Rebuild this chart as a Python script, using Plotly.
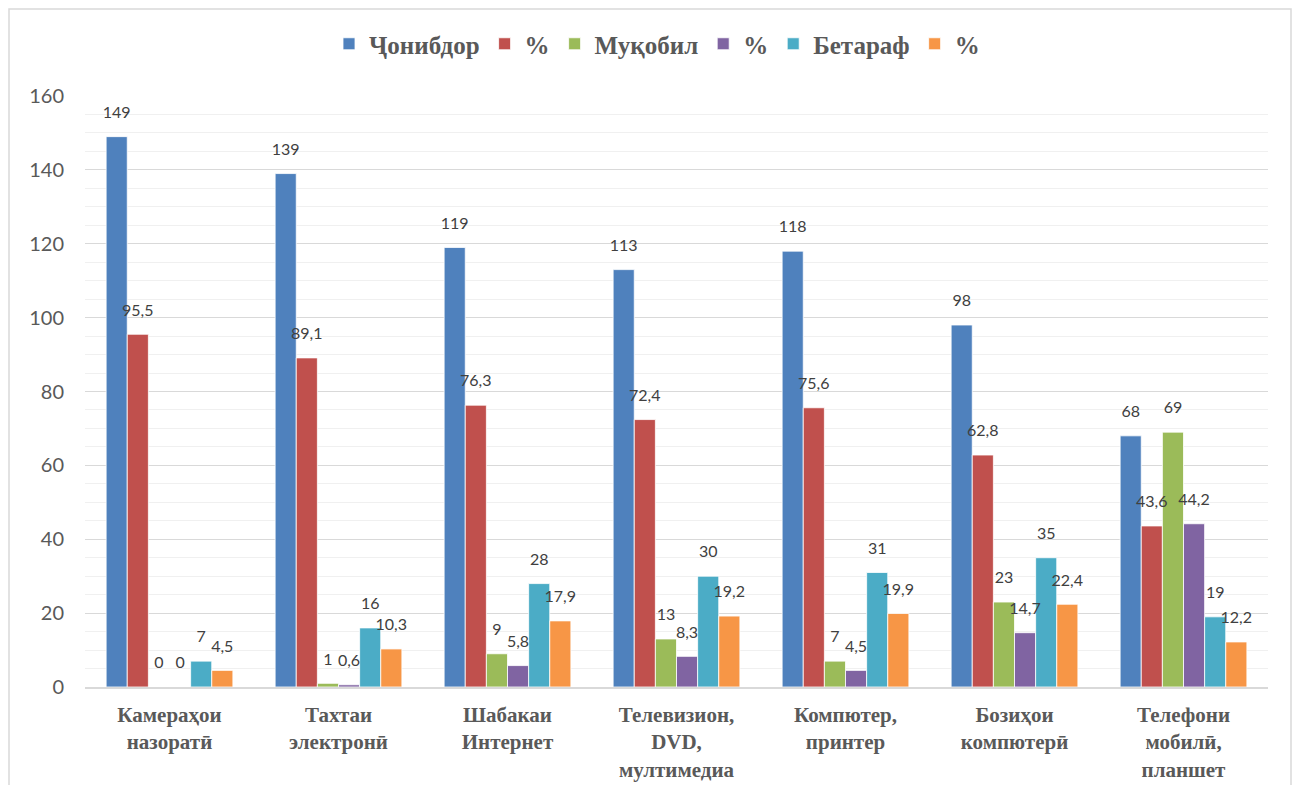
import plotly.graph_objects as go

categories = ["Камераҳои<br>назоратӣ", "Тахтаи<br>электронӣ", "Шабакаи<br>Интернет",
              "Телевизион,<br>DVD,<br>мултимедиа", "Компютер,<br>принтер",
              "Бозиҳои<br>компютерӣ", "Телефони<br>мобилӣ,<br>планшет"]
series_names = ["Ҷонибдор", "%", "Муқобил", "%", "Бетараф", "%"]
jonibdor = [149, 139, 119, 113, 118, 98, 68]
jonibdor_pct = [95.5, 89.1, 76.3, 72.4, 75.6, 62.8, 43.6]
muqobil = [0, 1, 9, 13, 7, 23, 69]
muqobil_pct = [0, 0.6, 5.8, 8.3, 4.5, 14.7, 44.2]
betaraf = [7, 16, 28, 30, 31, 35, 19]
betaraf_pct = [4.5, 10.3, 17.9, 19.2, 19.9, 22.4, 12.2]
colors = ["#4F81BD", "#C0504D", "#9BBB59", "#8064A2", "#4BACC6", "#F79646"]

all_series = [jonibdor, jonibdor_pct, muqobil, muqobil_pct, betaraf, betaraf_pct]

def fmt(v):
    return ("%g" % v).replace(".", ",")

W, H = 1284, 777
L, R, T, B = 77, 24, 88, 98
PW, PH = W - L - R, H - T - B

fig = go.Figure()
for i, (name, vals, col) in enumerate(zip(series_names, all_series, colors)):
    fig.add_trace(go.Bar(
        x=categories, y=vals, name=name,
        offsetgroup=str(i), alignmentgroup="g",
        marker=dict(color=col, line=dict(color="white", width=0.8)),
    ))
for i, vals in enumerate(all_series):
    fig.add_trace(go.Scatter(
        x=categories, y=vals, mode="markers+text",
        offsetgroup=str(i), alignmentgroup="g",
        marker=dict(size=22, color="rgba(0,0,0,0)"),
        text=[fmt(v) for v in vals],
        textposition="top center",
        textfont=dict(family="Lato, Open Sans, sans-serif", size=16, color="#404040"),
        showlegend=False, hoverinfo="skip", cliponaxis=False,
    ))

fig.update_layout(
    width=W, height=H,
    margin=dict(l=L, r=R, t=T, b=B),
    paper_bgcolor="white", plot_bgcolor="white",
    barmode="group", bargap=0.25, bargroupgap=0,
    scattermode="group", scattergap=0.25,
    legend=dict(orientation="h", x=(649 - L) / PW, xanchor="center",
                y=(H - B - 36) / PH, yanchor="middle",
                font=dict(family="Liberation Serif, Times New Roman, serif", size=25,
                          color="#595959", weight="bold"),
                traceorder="normal", itemwidth=30, tracegroupgap=0),
    showlegend=True,
    shapes=[dict(type="rect", xref="paper", yref="paper",
                 x0=(1 - L) / PW, x1=(W - 1 - L) / PW,
                 y0=(H - B - H - 20) / PH, y1=(H - B - 1) / PH,
                 line=dict(color="#d9d9d9", width=1.5), layer="below")],
)
fig.update_xaxes(
    showgrid=False, showline=True, linecolor="#d9d9d9", linewidth=1.5,
    tickfont=dict(family="Liberation Serif, Times New Roman, serif", size=21,
                  color="#595959", weight="bold"),
    ticks="", ticklabelstandoff=8, automargin=False,
)
fig.update_yaxes(
    range=[0, 160], dtick=20, showgrid=True, gridcolor="#d9d9d9", gridwidth=1,
    minor=dict(dtick=5, showgrid=True, gridcolor="#f0f0f0", gridwidth=1),
    zeroline=False, showline=False, automargin=False,
    tickfont=dict(family="Lato, Open Sans, sans-serif", size=20, color="#595959"),
    ticklabelstandoff=20,
)
fig.write_html("out.html")
